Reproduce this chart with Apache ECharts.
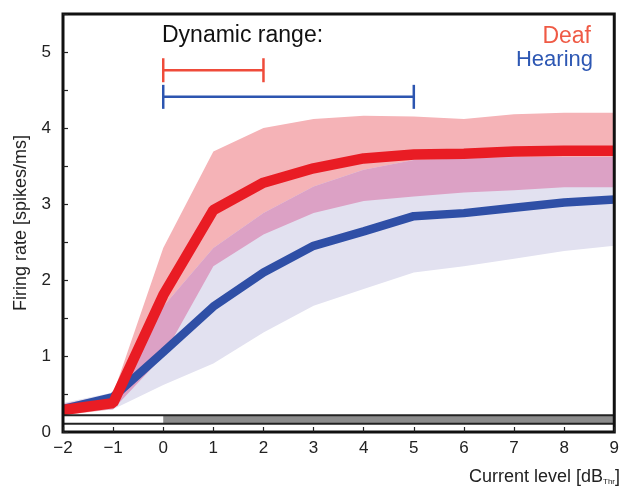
<!DOCTYPE html>
<html>
<head>
<meta charset="utf-8">
<script src="https://cdn.jsdelivr.net/npm/echarts@6/dist/echarts.min.js"></script>
<style>html,body{margin:0;padding:0;background:#fff}#c{width:622px;height:487px}</style>
</head>
<body>
<div id="c"></div>
<script>
// ---- data ----
const levels = ['−2','−1','0','1','2','3','4','5','6','7','8','9'];
const deafMean     = [0.29, 0.38, 1.80, 2.92, 3.28, 3.47, 3.60, 3.65, 3.66, 3.69, 3.70, 3.70];
const deafUpper    = [0.37, 0.50, 2.42, 3.69, 4.00, 4.12, 4.16, 4.15, 4.12, 4.18, 4.20, 4.20];
const deafLower    = [0.22, 0.30, 1.00, 2.18, 2.60, 2.88, 3.04, 3.10, 3.15, 3.18, 3.22, 3.22];
const hearingMean  = [0.30, 0.46, 1.05, 1.65, 2.10, 2.45, 2.64, 2.84, 2.88, 2.95, 3.02, 3.06];
const hearingUpper = [0.38, 0.52, 1.65, 2.42, 2.88, 3.23, 3.45, 3.58, 3.60, 3.62, 3.62, 3.62];
const hearingLower = [0.25, 0.30, 0.62, 0.90, 1.31, 1.66, 1.88, 2.10, 2.18, 2.28, 2.38, 2.45];
const deafRange    = ['0', '2'];   // dynamic range, dB
const hearingRange = ['0', '5'];
const stimStart    = '0';          // onset of grey stimulus strip
const yTicks = [0, 1, 2, 3, 4, 5];

// ---- derived ----
const idx = v => levels.indexOf(v);
const ovLow  = deafLower.map((v, i) => Math.max(v, hearingLower[i]));
const ovHigh = deafUpper.map((v, i) => Math.min(v, hearingUpper[i]));
const diff = (a, b) => a.map((v, i) => +(v - b[i]).toFixed(3));

const FONT = 'Liberation Sans, Arial, sans-serif';
const chart = echarts.init(document.getElementById('c'), null, {renderer: 'canvas'});

function band(stack, low, high, color) {
  return [
    {type: 'line', stack, data: low, symbol: 'none', lineStyle: {opacity: 0}, silent: true, z: 1},
    {type: 'line', stack, data: diff(high, low), symbol: 'none', lineStyle: {opacity: 0},
     areaStyle: {color, opacity: 1}, silent: true, z: 1}
  ];
}

const bracketY = {deaf: 4.76, hearing: 4.41};

chart.setOption({
  animation: false,
  backgroundColor: '#fff',
  grid: {left: 63, right: 7, top: 14, bottom: 55, show: true, borderColor: '#111', borderWidth: 3, backgroundColor: 'transparent', z: 10},
  xAxis: {
    type: 'category', data: levels, boundaryGap: false,
    axisLine: {show: false},
    axisTick: {show: true, inside: true, length: 5, lineStyle: {color: '#222', width: 1.2}},
    axisLabel: {fontFamily: FONT, fontSize: 17, color: '#222', margin: 8},
    splitLine: {show: false}, z: 11
  },
  yAxis: {
    type: 'value', min: 0, max: 5.5, interval: 0.5,
    name: 'Firing rate [spikes/ms]', nameLocation: 'middle', nameGap: 33, nameRotate: 90,
    nameTextStyle: {fontFamily: FONT, fontSize: 18, color: '#222'},
    axisLine: {show: false},
    axisTick: {show: true, inside: true, length: 5, lineStyle: {color: '#222', width: 1.2}},
    axisLabel: {fontFamily: FONT, fontSize: 17, color: '#222', margin: 12,
      formatter: v => yTicks.includes(v) ? String(v) : ''},
    splitLine: {show: false}, z: 11
  },
  series: [
    ...band('deaf', deafLower, deafUpper, '#f5b3b7'),
    ...band('hear', hearingLower, hearingUpper, '#e2e1f0'),
    ...band('ov', ovLow, ovHigh, '#dca1c5'),
    {type: 'line', data: hearingMean, symbol: 'none', lineStyle: {color: '#2f4fa6', width: 8.5}, z: 3},
    {type: 'line', data: deafMean, symbol: 'none', lineStyle: {color: '#e91c24', width: 10.5}, z: 4},
    {
      type: 'custom', z: 5, silent: true,
      data: [[0]],
      renderItem: (params, api) => {
        const a = api.coord([0, 0.22]);
        const m = api.coord([idx(stimStart), 0.11]);
        const b = api.coord([levels.length - 1, 0.11]);
        return {type: 'group', children: [
          {type: 'rect', shape: {x: a[0], y: a[1], width: m[0] - a[0], height: m[1] - a[1]},
           style: {fill: '#fff'}},
          {type: 'rect', shape: {x: m[0], y: a[1], width: b[0] - m[0], height: m[1] - a[1]},
           style: {fill: '#8c8c8c'}},
          {type: 'line', shape: {x1: a[0], y1: a[1], x2: b[0], y2: a[1]}, style: {stroke: '#222', lineWidth: 2}},
          {type: 'line', shape: {x1: a[0], y1: m[1], x2: b[0], y2: m[1]}, style: {stroke: '#222', lineWidth: 2}}
        ]};
      }
    },
    {
      type: 'custom', z: 5, silent: true,
      data: [[idx(deafRange[0]), idx(deafRange[1]), bracketY.deaf, 0], [idx(hearingRange[0]), idx(hearingRange[1]), bracketY.hearing, 1]],
      renderItem: (params, api) => {
        const p0 = api.coord([api.value(0), api.value(2)]);
        const p1 = api.coord([api.value(1), api.value(2)]);
        const color = api.value(3) === 0 ? '#ef4b3a' : '#2c55b0';
        const h = 12;
        const st = {stroke: color, lineWidth: 2.5};
        return {type: 'group', children: [
          {type: 'line', shape: {x1: p0[0], y1: p0[1], x2: p1[0], y2: p1[1]}, style: st},
          {type: 'line', shape: {x1: p0[0], y1: p0[1] - h, x2: p0[0], y2: p0[1] + h}, style: st},
          {type: 'line', shape: {x1: p1[0], y1: p1[1] - h, x2: p1[0], y2: p1[1] + h}, style: st}
        ]};
      }
    }
  ],
  graphic: [
    {type: 'text', left: 162, top: 24, style: {text: 'Dynamic range:', font: '23px ' + FONT, fill: '#111'}},
    {type: 'text', right: 31, top: 25, style: {text: 'Deaf', font: '23px ' + FONT, fill: '#ef5a45', align: 'right'}},
    {type: 'text', right: 29, top: 49, style: {text: 'Hearing', font: '22px ' + FONT, fill: '#2d57b3', align: 'right'}},
    {type: 'text', right: 2, top: 468, style: {
      text: 'Current level [dB{s|Thr}]', font: '18px ' + FONT, fill: '#222',
      rich: {s: {fontSize: 8, fontFamily: FONT, fill: '#222', verticalAlign: 'bottom', padding: [9, 0, 0, 0]}}
    }}
  ]
});
</script>
</body>
</html>
